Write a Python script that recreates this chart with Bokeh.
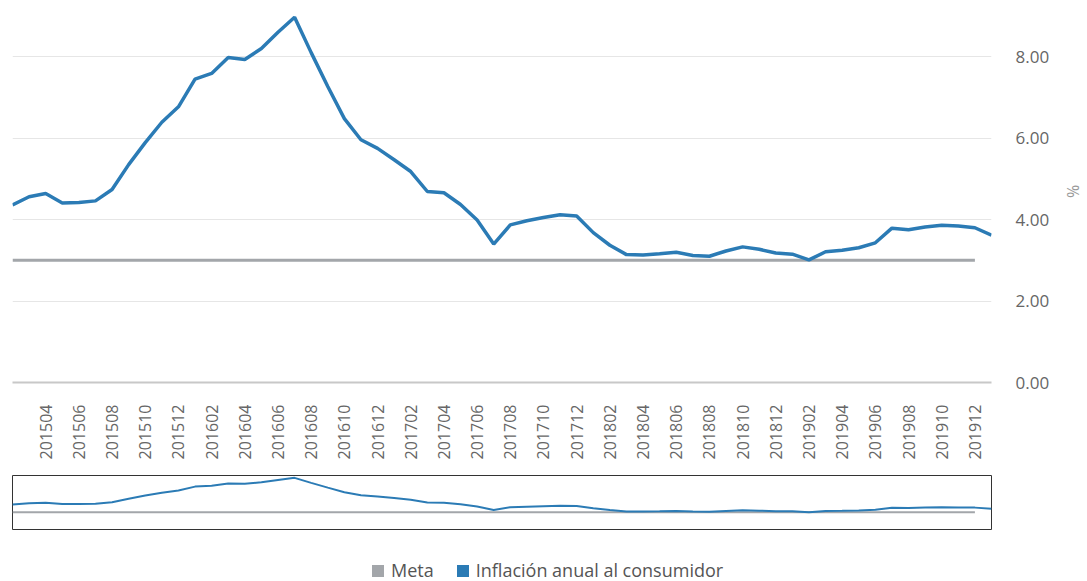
import math
from bokeh.plotting import figure
from bokeh.layouts import column
from bokeh.models import Range1d, FixedTicker, NumeralTickFormatter, Legend, LegendItem
from bokeh.embed import file_html
from bokeh.resources import INLINE

# ---- data ----
months = [
    "201502", "201503", "201504", "201505", "201506", "201507", "201508", "201509", "201510", "201511", "201512",
    "201601", "201602", "201603", "201604", "201605", "201606", "201607", "201608", "201609", "201610", "201611", "201612",
    "201701", "201702", "201703", "201704", "201705", "201706", "201707", "201708", "201709", "201710", "201711", "201712",
    "201801", "201802", "201803", "201804", "201805", "201806", "201807", "201808", "201809", "201810", "201811", "201812",
    "201901", "201902", "201903", "201904", "201905", "201906", "201907", "201908", "201909", "201910", "201911", "201912",
    "202001",
]
inflacion = [
    4.36, 4.56, 4.64, 4.41, 4.42, 4.46, 4.74, 5.35, 5.89, 6.39, 6.77,
    7.45, 7.59, 7.98, 7.93, 8.20, 8.60, 8.97, 8.10, 7.27, 6.48, 5.96, 5.75,
    5.47, 5.18, 4.69, 4.66, 4.37, 3.99, 3.40, 3.87, 3.97, 4.05, 4.12, 4.09,
    3.68, 3.37, 3.14, 3.13, 3.16, 3.20, 3.12, 3.10, 3.23, 3.33, 3.27, 3.18,
    3.15, 3.01, 3.21, 3.25, 3.31, 3.43, 3.79, 3.75, 3.82, 3.86, 3.84, 3.80,
    3.62,
]
meta = [
    3.0, 3.0, 3.0, 3.0, 3.0, 3.0, 3.0, 3.0, 3.0, 3.0, 3.0,
    3.0, 3.0, 3.0, 3.0, 3.0, 3.0, 3.0, 3.0, 3.0, 3.0, 3.0, 3.0,
    3.0, 3.0, 3.0, 3.0, 3.0, 3.0, 3.0, 3.0, 3.0, 3.0, 3.0, 3.0,
    3.0, 3.0, 3.0, 3.0, 3.0, 3.0, 3.0, 3.0, 3.0, 3.0, 3.0, 3.0,
    3.0, 3.0, 3.0, 3.0, 3.0, 3.0, 3.0, 3.0, 3.0, 3.0, 3.0, 3.0,
]
tick_labels = months[2:59:2]          # 201504 ... 201912
y_ticks = [0, 2, 4, 6, 8]

x_all = list(range(len(months)))
x_meta = x_all[:len(meta)]
x_ticks = [months.index(m) for m in tick_labels]

BLUE = "#2B7BB5"
GREY = "#A3A6AA"
TXT = "#666666"
FONT = "Open Sans"

# ---- main chart ----
p = figure(width=1087, height=470,
           x_range=Range1d(0, len(months) - 1), y_range=Range1d(0, 9.38),
           y_axis_location="right",
           min_border_left=12, min_border_right=85, min_border_top=0, min_border_bottom=88,
           outline_line_color=None, toolbar_location=None, output_backend="svg")

p.line(x_meta, meta, line_color=GREY, line_width=3)
p.line(x_all, inflacion, line_color=BLUE, line_width=3.5)

p.xgrid.visible = False
p.ygrid.ticker = FixedTicker(ticks=[t for t in y_ticks if t > 0])
p.ygrid.grid_line_color = "#E6E6E6"

ya = p.yaxis[0]
ya.ticker = FixedTicker(ticks=y_ticks)
ya.formatter = NumeralTickFormatter(format="0.00")
ya.axis_line_color = None
ya.major_tick_line_color = None
ya.minor_tick_line_color = None
ya.major_label_standoff = 18
ya.major_label_text_font = FONT
ya.major_label_text_font_size = "17px"
ya.major_label_text_color = TXT
ya.axis_label = "%"
ya.axis_label_text_font = FONT
ya.axis_label_text_font_style = "normal"
ya.axis_label_text_font_size = "16px"
ya.axis_label_text_color = "#999999"
ya.axis_label_standoff = 10

xa = p.xaxis[0]
xa.ticker = FixedTicker(ticks=x_ticks)
xa.major_label_overrides = {t: lab for t, lab in zip(x_ticks, tick_labels)}
xa.major_label_orientation = math.pi / 2
xa.axis_line_color = "#C8C8C8"
xa.axis_line_width = 2
xa.major_tick_line_color = None
xa.minor_tick_line_color = None
xa.major_label_standoff = 16
xa.major_label_text_font = FONT
xa.major_label_text_font_size = "16px"
xa.major_label_text_color = TXT

# ---- mini (zoom slider) chart ----
m = figure(width=1087, height=65, x_range=p.x_range, y_range=p.y_range,
           x_axis_location=None, y_axis_location=None,
           min_border_left=12, min_border_right=85, min_border_top=5, min_border_bottom=6,
           outline_line_color="#333333", outline_line_width=1,
           toolbar_location=None, output_backend="svg")
m.grid.visible = False
m.line(x_meta, meta, line_color=GREY, line_width=2)
m.line(x_all, inflacion, line_color=BLUE, line_width=2)

# ---- legend ----
# series drawn far outside this strip's y range: only their legend swatches show
lg = figure(width=1087, height=46,
            x_range=Range1d(0, len(months) - 1), y_range=Range1d(-20, -10),
            x_axis_location=None, y_axis_location=None,
            min_border_left=12, min_border_right=85, min_border_top=24, min_border_bottom=0,
            outline_line_color=None, toolbar_location=None, output_backend="svg")
lg.grid.visible = False
r1 = lg.rect(x=x_meta, y=meta, width=0.5, height=0.5, fill_color=GREY, line_color=None)
r2 = lg.rect(x=x_all, y=inflacion, width=0.5, height=0.5, fill_color=BLUE, line_color=None)
legend = Legend(items=[LegendItem(label="Meta", renderers=[r1]),
                       LegendItem(label="Inflación anual al consumidor", renderers=[r2])],
                orientation="horizontal", location=(358, -1),
                border_line_color=None, background_fill_alpha=0,
                label_text_font=FONT, label_text_font_size="18px", label_text_color="#555555",
                glyph_width=15, glyph_height=15, label_standoff=6, spacing=21,
                padding=0, margin=0)
lg.add_layout(legend)

layout = column(p, m, lg, spacing=0)
open("out.html", "w").write(file_html(layout, INLINE))
